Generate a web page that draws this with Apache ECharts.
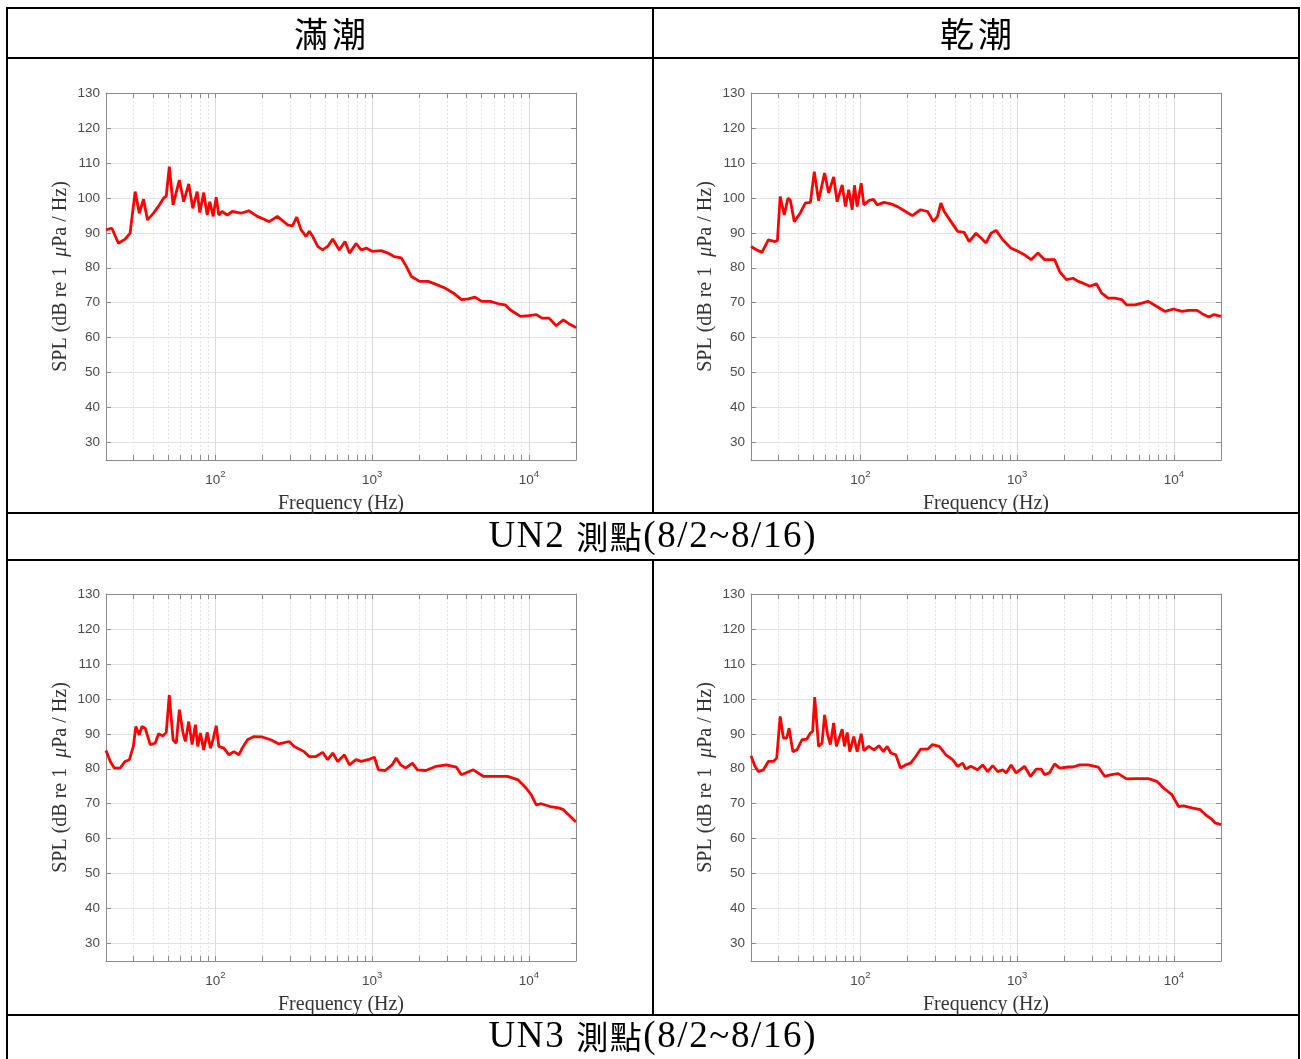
<!DOCTYPE html>
<html>
<head>
<meta charset="utf-8">
<script src="https://cdn.jsdelivr.net/npm/echarts@6/dist/echarts.min.js"></script>
<style>
  html, body { margin: 0; padding: 0; background: #ffffff; }
  #main { width: 1301px; height: 1059px; }
</style>
</head>
<body>
<div id="main"></div>
<script>
// Column and row captions of the comparison table
const columnTitles = ['滿潮', '乾潮'];
const stationTitles = ['UN2 測點(8/2~8/16)', 'UN3 測點(8/2~8/16)'];

// Axis ticks
const majorFreqTicks = [100, 1000, 10000];
const minorFreqTicks = [30, 40, 50, 60, 70, 80, 90, 200, 300, 400, 500, 600, 700, 800, 900,
                        2000, 3000, 4000, 5000, 6000, 7000, 8000, 9000];
const splTicks = [30, 40, 50, 60, 70, 80, 90, 100, 110, 120, 130];

// Spectra: [frequency (Hz), SPL (dB re 1 μPa / Hz)]
const un2HighTide = [
  [20, 90.9], [21.8, 91.3], [24, 87.0], [26.5, 88.2], [28.5, 89.9], [30.7, 101.8], [32.6, 95.6],
  [34.7, 99.6], [36.8, 93.7], [40, 95.5], [43.4, 97.7], [46.6, 99.9], [48.5, 100.5], [50.7, 108.9],
  [53.6, 98.0], [58.8, 105.1], [62.7, 98.9], [67.5, 104.0], [71.6, 97.0], [76.4, 101.8], [79.4, 95.8],
  [84.1, 101.5], [88.5, 95.1], [92, 98.9], [96.7, 94.7], [101, 100.2], [105, 95.1], [110, 96.1],
  [119, 95.1], [128, 96.1], [145, 95.6], [163, 96.3], [185, 94.7], [204, 93.9], [220, 93.2],
  [248, 94.7], [288, 92.3], [310, 92.0], [330, 94.5], [351, 90.9], [378, 89.0], [397, 90.4],
  [417, 89.0], [449, 86.1], [483, 85.1], [520, 86.1], [560, 88.2], [617, 85.1], [671, 87.5],
  [716, 84.2], [789, 86.9], [851, 85.1], [920, 85.6], [1000, 84.7], [1142, 84.9], [1260, 84.2],
  [1380, 83.2], [1534, 82.8], [1652, 80.4], [1780, 77.5], [2010, 76.1], [2275, 76.1], [2510, 75.4],
  [2910, 74.2], [3290, 72.8], [3720, 70.9], [4110, 71.1], [4530, 71.6], [5000, 70.4], [5650, 70.4],
  [6390, 69.7], [7050, 69.4], [7590, 68.0], [8840, 66.1], [10000, 66.3], [11190, 66.6], [12110, 65.6],
  [13450, 65.6], [14960, 63.4], [16600, 65.1], [17980, 64.0], [19440, 63.2], [20000, 62.8]
];

const un2LowTide = [
  [20, 86.1], [21.8, 85.1], [23.5, 84.4], [25.8, 88.0], [28.5, 87.5], [29.5, 87.8], [30.7, 100.4],
  [32.6, 95.1], [34.4, 99.9], [35.6, 99.4], [37.8, 93.2], [41.2, 95.6], [44.4, 98.5], [47.9, 98.7],
  [50.7, 107.5], [54, 99.2], [59, 107.1], [62.6, 101.4], [67.4, 106.0], [70.9, 98.9], [76.4, 103.7],
  [80.1, 97.5], [84.1, 102.3], [88.5, 96.6], [91.5, 103.6], [95.2, 97.5], [101, 104.2], [105, 98.0],
  [113, 99.2], [121, 99.6], [128, 98.0], [141, 98.7], [156, 98.3], [172, 97.5], [194, 96.1],
  [214, 94.9], [242, 96.6], [268, 96.1], [292, 93.2], [310, 94.7], [326, 98.5], [342, 96.1],
  [378, 93.2], [417, 90.4], [459, 90.1], [494, 87.5], [546, 89.9], [588, 88.5], [633, 87.1],
  [681, 89.9], [733, 90.7], [809, 88.0], [915, 85.6], [1010, 84.7], [1114, 83.7], [1229, 82.3],
  [1357, 84.2], [1496, 82.3], [1735, 82.3], [1867, 78.9], [2060, 76.6], [2275, 77.0], [2450, 76.1],
  [2640, 75.6], [2910, 74.7], [3210, 75.4], [3450, 72.8], [3810, 71.3], [4200, 71.3], [4640, 70.9],
  [4990, 69.4], [5650, 69.4], [6240, 69.9], [6880, 70.4], [7790, 68.9], [8800, 67.5], [9950, 68.2],
  [11260, 67.5], [12420, 67.8], [14040, 67.8], [15510, 66.6], [16720, 65.9], [18040, 66.6], [20000, 66.1]
];

const un3HighTide = [
  [20, 85.2], [21.3, 82.1], [22.6, 80.2], [24.6, 80.2], [26.5, 82.1], [28.2, 82.6], [29.9, 86.4],
  [31, 92.1], [32.6, 89.7], [33.9, 92.1], [35.6, 91.6], [38.3, 86.9], [41.2, 87.3], [43.3, 90.0],
  [46.2, 89.4], [48.5, 90.4], [50.7, 101.1], [53.6, 88.3], [56.2, 87.3], [58.8, 96.9], [62.1, 90.2],
  [64.2, 87.8], [67.5, 93.5], [70.9, 86.9], [74.4, 92.6], [77, 86.4], [80.1, 90.2], [84.1, 85.4],
  [88.5, 90.4], [92.9, 85.9], [96.6, 88.5], [101, 92.3], [105, 86.4], [113, 85.9], [122, 84.0],
  [131, 84.9], [141, 84.0], [148, 85.9], [160, 88.3], [176, 89.2], [199, 89.1], [225, 88.3],
  [254, 87.1], [295, 87.8], [318, 86.4], [368, 84.9], [396, 83.5], [437, 83.5], [483, 84.7],
  [520, 82.6], [560, 84.5], [603, 82.1], [665, 84.0], [716, 81.1], [789, 82.6], [851, 82.1],
  [945, 82.6], [1033, 83.3], [1097, 79.7], [1211, 79.5], [1340, 81.1], [1424, 83.1], [1520, 81.1],
  [1635, 80.2], [1806, 81.6], [1945, 79.7], [2200, 79.5], [2560, 80.7], [2970, 81.1], [3440, 80.5],
  [3710, 78.3], [4420, 79.7], [5150, 77.8], [5990, 77.8], [7310, 77.8], [8480, 76.9], [9600, 74.5],
  [10340, 72.6], [11150, 69.7], [12020, 70.0], [13650, 69.2], [15500, 68.8], [16600, 68.3],
  [18350, 66.4], [19760, 65.0], [20000, 64.9]
];

const un3LowTide = [
  [20, 83.7], [21.2, 80.7], [22.3, 79.2], [24, 79.7], [25.8, 82.1], [27.8, 82.1], [29.2, 83.1],
  [30.7, 95.0], [32.2, 88.8], [33.8, 88.8], [35, 91.6], [37, 84.9], [39.3, 85.4], [42.3, 88.3],
  [45.5, 88.5], [47.8, 90.2], [49.5, 90.7], [51, 100.5], [54, 86.4], [56.8, 87.3], [59, 95.4],
  [61.7, 89.7], [64.2, 86.9], [67.4, 93.1], [70.1, 86.4], [76.4, 91.3], [79, 86.4], [82.2, 90.4],
  [85.4, 84.9], [90.6, 89.2], [95.2, 84.9], [101, 90.0], [105, 85.2], [113, 86.4], [122, 85.4],
  [131, 86.6], [140, 84.9], [148, 86.4], [156, 84.5], [168, 84.0], [180, 80.2], [194, 81.1],
  [209, 81.6], [225, 83.5], [242, 85.6], [268, 85.6], [288, 86.9], [318, 86.4], [351, 84.0],
  [387, 82.6], [417, 80.7], [449, 81.6], [470, 79.9], [506, 80.7], [559, 79.7], [602, 81.1],
  [648, 79.2], [698, 80.9], [752, 79.2], [809, 79.7], [850, 78.8], [915, 81.1], [985, 78.8],
  [1114, 80.7], [1217, 77.8], [1324, 79.9], [1426, 79.9], [1496, 78.3], [1611, 78.9], [1735, 81.4],
  [1867, 80.2], [2115, 80.5], [2275, 80.5], [2505, 81.1], [2840, 81.1], [3290, 80.5], [3630, 77.8],
  [4000, 78.3], [4420, 78.6], [4990, 77.1], [5790, 77.2], [6880, 77.2], [7790, 76.4], [8600, 74.5],
  [9710, 72.6], [10710, 69.2], [11540, 69.4], [13030, 68.8], [14740, 68.3], [15880, 66.9],
  [17510, 65.5], [18340, 64.5], [20000, 64.0]
];

const panelSeries = [un2HighTide, un2LowTide, un3HighTide, un3LowTide];

// Layout of the four plot areas inside the table cells
const panelBoxes = [
  { left: 106, top: 93 }, { left: 751, top: 93 },
  { left: 106, top: 594 }, { left: 751, top: 594 }
];
const plotW = 470, plotH = 367;

const boxColor = '#8c8c8c';
const labelColor = '#4a4a4a';
const nameColor = '#333333';
const tickFont = '"Liberation Sans", Arial, sans-serif';
const serifFont = '"Liberation Serif", "Times New Roman", serif';
const cjkFont = '"Noto Sans CJK TC", "Noto Sans CJK SC", sans-serif';
const allFreqTicks = minorFreqTicks.concat(majorFreqTicks).sort((a, b) => a - b);

const grids = [], xAxes = [], yAxes = [], series = [];

panelBoxes.forEach((box, i) => {
  grids.push({
    left: box.left, top: box.top, width: plotW, height: plotH,
    show: false, containLabel: false, outerBoundsMode: 'none'
  });

  // bottom axis: decade labels, all ticks, dotted minor grid
  xAxes.push({
    gridIndex: i, type: 'log', logBase: 10, min: 20, max: 20000, position: 'bottom',
    axisLine: { show: true, onZero: false, lineStyle: { color: boxColor, width: 1 } },
    axisTick: { show: true, inside: true, length: 5, customValues: allFreqTicks,
                lineStyle: { color: boxColor, width: 1 } },
    axisLabel: {
      show: true, customValues: majorFreqTicks, margin: 9,
      formatter: v => '{b|10}{e|' + Math.round(Math.log10(v)) + '}',
      rich: {
        b: { fontSize: 13.5, fontFamily: tickFont, color: labelColor, lineHeight: 18, verticalAlign: 'bottom' },
        e: { fontSize: 9.5, fontFamily: tickFont, color: labelColor, lineHeight: 10, verticalAlign: 'top' }
      }
    },
    splitLine: { show: true, lineStyle: { color: '#e4e4e4', width: 1, type: [2, 2] } },
    name: 'Frequency (Hz)', nameLocation: 'middle', nameGap: 34,
    nameTextStyle: { fontFamily: serifFont, fontSize: 20, color: nameColor }
  });
  // bottom overlay: solid grid lines at the decades
  xAxes.push({
    gridIndex: i, type: 'log', logBase: 10, min: 20, max: 20000, position: 'bottom',
    axisLine: { show: false, onZero: false },
    axisTick: { show: false, customValues: majorFreqTicks },
    axisLabel: { show: false },
    splitLine: { show: true, lineStyle: { color: '#dadada', width: 1 } }
  });
  // top frame edge with inward ticks
  xAxes.push({
    gridIndex: i, type: 'log', logBase: 10, min: 20, max: 20000, position: 'top',
    axisLine: { show: true, onZero: false, lineStyle: { color: boxColor, width: 1 } },
    axisTick: { show: true, inside: true, length: 5, customValues: allFreqTicks,
                lineStyle: { color: boxColor, width: 1 } },
    axisLabel: { show: false },
    splitLine: { show: false }
  });

  yAxes.push({
    gridIndex: i, type: 'value', min: 25, max: 130, position: 'left',
    axisLine: { show: true, onZero: false, lineStyle: { color: boxColor, width: 1 } },
    axisTick: { show: true, inside: true, length: 5, customValues: splTicks,
                lineStyle: { color: boxColor, width: 1 } },
    axisLabel: { show: true, customValues: splTicks, margin: 6, fontSize: 13.5,
                 fontFamily: tickFont, color: labelColor },
    splitLine: { show: true, lineStyle: { color: '#e2e2e2', width: 1 } },
    name: 'SPL (dB re 1  {i|μ}Pa / Hz)', nameLocation: 'middle', nameGap: 35, nameRotate: 90,
    nameTextStyle: {
      fontFamily: serifFont, fontSize: 20, color: nameColor,
      rich: { i: { fontFamily: serifFont, fontSize: 20, fontStyle: 'italic', color: nameColor } }
    }
  });
  yAxes.push({
    gridIndex: i, type: 'value', min: 25, max: 130, position: 'right',
    axisLine: { show: true, onZero: false, lineStyle: { color: boxColor, width: 1 } },
    axisTick: { show: true, inside: true, length: 5, customValues: splTicks,
                lineStyle: { color: boxColor, width: 1 } },
    axisLabel: { show: false },
    splitLine: { show: false }
  });

  series.push({
    type: 'line', xAxisIndex: i * 3, yAxisIndex: i * 2,
    data: panelSeries[i], showSymbol: false, symbol: 'none', smooth: false,
    lineStyle: { color: '#ff0000', width: 2.8 }, z: 5, animation: false
  });
});

// Table frame
const line = (x1, y1, x2, y2) => ({
  type: 'line', silent: true,
  shape: { x1, y1, x2, y2 },
  style: { stroke: '#000000', lineWidth: 2 }
});

// Captions mix Latin (serif, slightly tracked) and Han (CJK) glyphs
const isHan = ch => /[\u4e00-\u9fff]/.test(ch);
const captionRich = (latinSize, hanSize, track) => ({
  l: { fontFamily: serifFont, fontSize: latinSize, fill: '#000000', padding: [0, track] },
  h: { fontFamily: cjkFont, fontSize: hanSize, fill: '#000000', padding: [0, track] }
});
const toRuns = text => Array.from(text)
  .map(ch => (isHan(ch) ? '{h|' : '{l|') + ch + '}').join('');
const caption = (text, x, y, latinSize, hanSize, track) => ({
  type: 'text', silent: true,
  style: {
    text: toRuns(text), x, y, align: 'center', verticalAlign: 'middle',
    rich: captionRich(latinSize, hanSize, track)
  }
});

const graphics = [
  line(6, 8, 1300, 8),
  line(6, 58, 1300, 58),
  line(6, 513, 1300, 513),
  line(6, 560, 1300, 560),
  line(6, 1015, 1300, 1015),
  line(7, 7, 7, 1059),
  line(1299, 7, 1299, 1059),
  line(653, 8, 653, 513),
  line(653, 560, 653, 1015),
  caption(columnTitles[0], 330, 34, 34, 34, 2),
  caption(columnTitles[1], 976, 34, 34, 34, 2),
  caption(stationTitles[0], 652, 537, 37, 32, 0.8),
  caption(stationTitles[1], 652, 1037, 37, 32, 0.8)
];

const chart = echarts.init(document.getElementById('main'), null, { renderer: 'canvas' });
chart.setOption({
  animation: false,
  backgroundColor: '#ffffff',
  grid: grids,
  xAxis: xAxes,
  yAxis: yAxes,
  series: series,
  graphic: graphics
});
</script>
</body>
</html>
